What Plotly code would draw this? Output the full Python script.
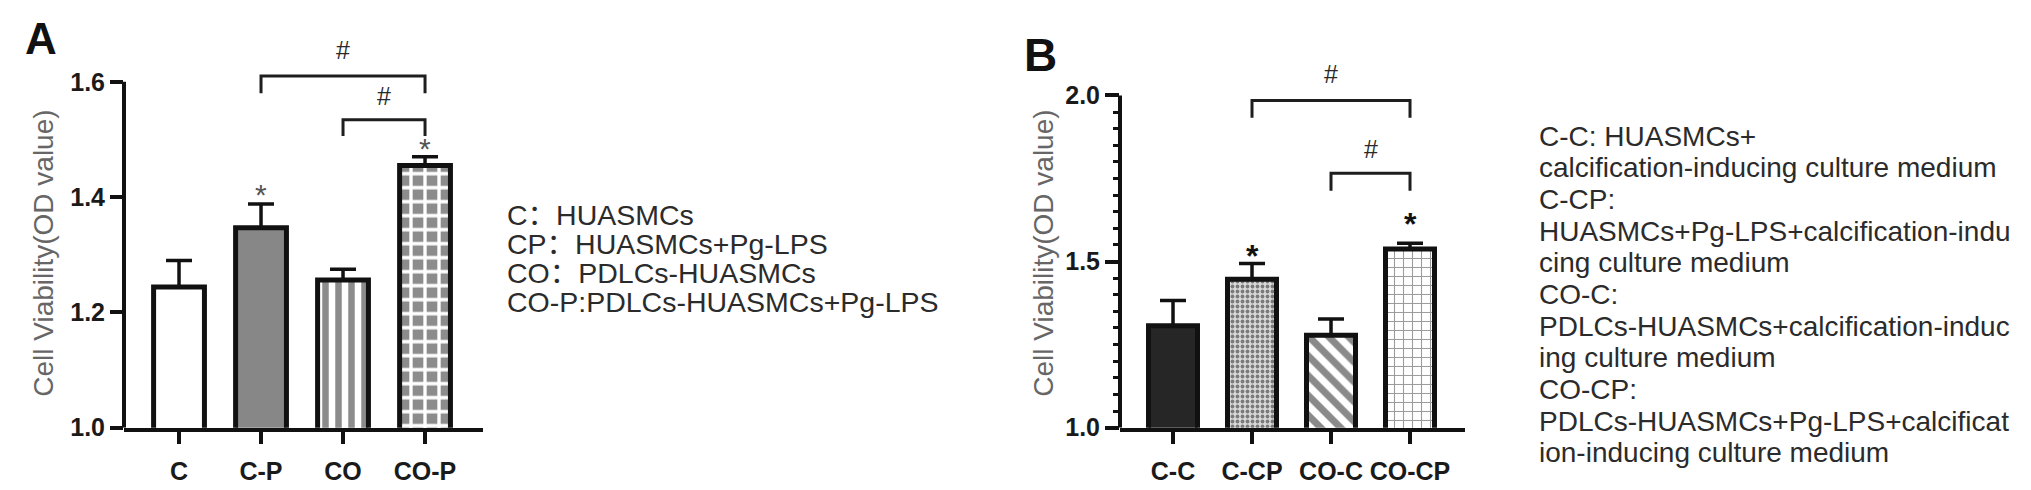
import plotly.graph_objects as go

# ---------------- data ----------------
A_categories = ["C", "C-P", "CO", "CO-P"]
A_means = [1.244, 1.347, 1.256, 1.455]
A_err_up = [0.046, 0.041, 0.019, 0.015]
A_star_idx = [1, 3]
A_star_y = [1.408, 1.487]
A_brackets = [(1, 3, 1.610, 1.580), (2, 3, 1.534, 1.506)]   # (from, to, top, leg bottom)
A_hash = [(2.0, 1.656), (2.5, 1.576)]
A_yticks = [1.0, 1.2, 1.4, 1.6]

B_categories = ["C-C", "C-CP", "CO-C", "CO-CP"]
B_means = [1.307, 1.447, 1.278, 1.538]
B_err_up = [0.076, 0.047, 0.049, 0.017]
B_star_idx = [1, 3]
B_star_y = [1.523, 1.620]
B_brackets = [(1, 3, 1.985, 1.933), (2, 3, 1.766, 1.713)]
B_hash = [(2.0, 2.064), (2.5, 1.839)]
B_yticks = [1.0, 1.5, 2.0]
B_minor = [round(1.0 + 0.05 * i, 2) for i in range(21)]

A_legend = ["C：HUASMCs", "CP：HUASMCs+Pg-LPS", "CO：PDLCs-HUASMCs",
            "CO-P:PDLCs-HUASMCs+Pg-LPS"]
B_legend = ["C-C: HUASMCs+", "calcification-inducing culture medium", "C-CP:",
            "HUASMCs+Pg-LPS+calcification-indu", "cing culture medium", "CO-C:",
            "PDLCs-HUASMCs+calcification-induc", "ing culture medium", "CO-CP:",
            "PDLCs-HUASMCs+Pg-LPS+calcificat", "ion-inducing culture medium"]

# ---------------- styles ----------------
A_styles = [  # (shape, fgcolor, bgcolor, size, solidity)
    ("", "#ffffff", "#ffffff", 10, 0.5),
    ("", "#878787", "#878787", 10, 0.5),
    ("|", "#8c8c8c", "#ffffff", 13, 0.5),
    ("+", "#ffffff", "#8c8c8c", 14, 0.42),
]
B_styles = [
    ("", "#262626", "#262626", 10, 0.5),
    (".", "#7a7a7a", "#d9d9d9", 5, 0.45),
    ("\\", "#8a8a8a", "#ffffff", 14, 0.5),
    ("+", "#9a9a9a", "#ffffff", 9, 0.22),
]

W, H = 2031, 490
FONT = "Liberation Sans, Arial, sans-serif"


def px(x):
    return x / W


def py(y):
    return 1 - y / H


fig = go.Figure()

for cats, means, errs, styles, xa, ya in [
        (A_categories, A_means, A_err_up, A_styles, "x", "y"),
        (B_categories, B_means, B_err_up, B_styles, "x2", "y2")]:
    for c, m, e, (shp, fg, bg, sz, sol) in zip(cats, means, errs, styles):
        fig.add_trace(go.Bar(
            x=[c], y=[m], xaxis=xa, yaxis=ya, width=0.62,
            marker=dict(color=bg, line=dict(color="#111111", width=5),
                        pattern=dict(shape=shp, fgcolor=fg, bgcolor=bg, size=sz,
                                     solidity=sol, fillmode="replace")),
            error_y=dict(type="data", symmetric=False, array=[e], arrayminus=[0],
                         color="#111111", thickness=3.5, width=13),
            showlegend=False, hoverinfo="skip"))

# significance brackets
for brackets, cats, xa, ya in [(A_brackets, A_categories, "x", "y"),
                               (B_brackets, B_categories, "x2", "y2")]:
    for (i0, i1, top, bot) in brackets:
        fig.add_trace(go.Scatter(
            x=[cats[i0], cats[i0], cats[i1], cats[i1]], y=[bot, top, top, bot],
            mode="lines", line=dict(color="#1e1e1e", width=3),
            xaxis=xa, yaxis=ya, showlegend=False, hoverinfo="skip"))

annotations = []
for (xv, yv) in A_hash:
    annotations.append(dict(x=xv, y=yv, xref="x", yref="y", text="#", showarrow=False,
                            xanchor="center", yanchor="middle",
                            font=dict(family=FONT, size=25, color="#2a2a2a")))
for (xv, yv) in B_hash:
    annotations.append(dict(x=xv, y=yv, xref="x2", yref="y2", text="#", showarrow=False,
                            xanchor="center", yanchor="middle",
                            font=dict(family=FONT, size=25, color="#2a2a2a")))
for i, yv in zip(A_star_idx, A_star_y):
    annotations.append(dict(x=A_categories[i], y=yv, xref="x", yref="y", text="*",
                            showarrow=False, yshift=-2, xanchor="center", yanchor="middle",
                            font=dict(family=FONT, size=30, color="#555555")))
for i, yv in zip(B_star_idx, B_star_y):
    annotations.append(dict(x=B_categories[i], y=yv, xref="x2", yref="y2", text="<b>*</b>",
                            showarrow=False, yshift=-2, xanchor="center", yanchor="middle",
                            font=dict(family=FONT, size=32, color="#111111")))

# panel letters
annotations.append(dict(x=px(33), y=py(31), xref="paper", yref="paper", text="<b>A</b>",
                        showarrow=False, xanchor="center", yanchor="middle",
                        font=dict(family=FONT, size=44, color="#111111")))
annotations.append(dict(x=px(1032), y=py(48), xref="paper", yref="paper", text="<b>B</b>",
                        showarrow=False, xanchor="center", yanchor="middle",
                        font=dict(family=FONT, size=46, color="#111111")))

# y-axis titles
for xc in (36, 1036):
    annotations.append(dict(x=px(xc), y=py(253), xref="paper", yref="paper",
                            text="Cell Viability(OD value)", textangle=-90, showarrow=False,
                            xanchor="center", yanchor="middle",
                            font=dict(family=FONT, size=28, color="#666666")))

# legends (text blocks)
for k, line in enumerate(A_legend):
    annotations.append(dict(x=px(497), y=py(213 + 30 * k), xref="paper", yref="paper",
                            text=line, showarrow=False, xanchor="left", yanchor="middle",
                            font=dict(family="Liberation Sans, Noto Sans CJK SC", size=28.5,
                                      color="#2b2b2b")))
for k, line in enumerate(B_legend):
    annotations.append(dict(x=px(1529), y=py(132 + 32.6 * k), xref="paper", yref="paper",
                            text=line, showarrow=False, xanchor="left", yanchor="middle",
                            font=dict(family=FONT, size=28, color="#2b2b2b")))

shapes = [
    dict(type="line", xref="x domain", yref="y", x0=0, x1=0, y0=A_yticks[0], y1=A_yticks[-1],
         line=dict(color="#111111", width=4)),
    dict(type="line", xref="x2 domain", yref="y2", x0=0, x1=0, y0=B_yticks[0], y1=B_yticks[-1],
         line=dict(color="#111111", width=4)),
]

A_x0, A_x1, A_y0, A_y16 = 116, 475, 432, 76
A_ppu = (A_y0 - A_y16) / 0.6
A_top = 1.72
B_x0, B_x1, B_y0, B_y20 = 1112, 1457, 432, 90
B_ppu = (B_y0 - B_y20) / 1.0
B_top = 2.2

tickfont = dict(family=FONT, size=25, color="#1a1a1a", weight="bold")

fig.update_layout(
    width=W, height=H, margin=dict(l=0, r=0, t=0, b=0),
    paper_bgcolor="white", plot_bgcolor="white",
    barmode="overlay", showlegend=False,
    annotations=annotations, shapes=shapes,
    xaxis=dict(domain=[px(A_x0), px(A_x1)], range=[-0.671, 3.707], showline=True,
               linecolor="#111111", linewidth=4, ticks="outside", ticklen=12, tickwidth=3.5,
               tickcolor="#111111", tickfont=tickfont, showgrid=False, zeroline=False,
               anchor="y", ticklabelstandoff=6, categoryorder="array",
               categoryarray=A_categories),
    yaxis=dict(domain=[py(A_y0), py(A_y0 - (A_top - 1.0) * A_ppu)], range=[1.0, A_top],
               tickvals=A_yticks, ticktext=[f"{v:.1f}" for v in A_yticks],
               showline=False, ticks="outside", ticklen=13, tickwidth=3.5, tickcolor="#111111",
               tickfont=tickfont, showgrid=False, zeroline=False, anchor="x"),
    xaxis2=dict(domain=[px(B_x0), px(B_x1)], range=[-0.671, 3.696], showline=True,
                linecolor="#111111", linewidth=4, ticks="outside", ticklen=12, tickwidth=3.5,
                tickcolor="#111111", tickfont=tickfont, showgrid=False, zeroline=False,
                anchor="y2", ticklabelstandoff=6, categoryorder="array",
                categoryarray=B_categories),
    yaxis2=dict(domain=[py(B_y0), py(B_y0 - (B_top - 1.0) * B_ppu)], range=[1.0, B_top],
                tickvals=B_yticks, ticktext=[f"{v:.1f}" for v in B_yticks],
                showline=False, ticks="outside", ticklen=14, tickwidth=3.5, tickcolor="#111111",
                tickfont=tickfont, showgrid=False, zeroline=False, anchor="x2",
                minor=dict(tickvals=B_minor, ticks="outside", ticklen=6, tickwidth=3,
                           tickcolor="#111111", showgrid=False)),
)

fig.write_html("out.html")
